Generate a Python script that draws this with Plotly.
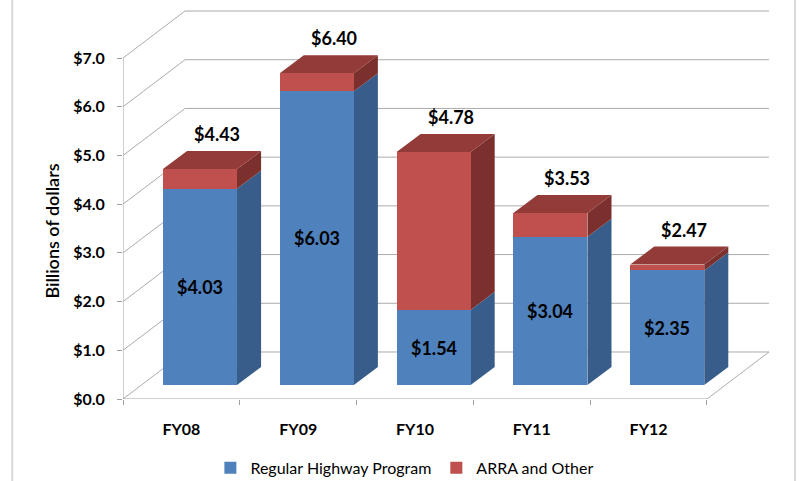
import plotly.graph_objects as go

# ---- data ----
categories = ["FY08", "FY09", "FY10", "FY11", "FY12"]
regular = [4.03, 6.03, 1.54, 3.04, 2.35]
arra = [0.40, 0.37, 3.24, 0.49, 0.12]
totals = [4.43, 6.40, 4.78, 3.53, 2.47]
y_ticks = [0, 1, 2, 3, 4, 5, 6, 7]
y_tick_labels = ["$0.0", "$1.0", "$2.0", "$3.0", "$4.0", "$5.0", "$6.0", "$7.0"]

# ---- pseudo-3D geometry (in axis units) ----
WALL_DX, WALL_DY = 0.531, 0.965      # full depth of the chart box
FRONT = 0.30                          # bars sit 30% into the depth
DXF, DYF = FRONT * WALL_DX, FRONT * WALL_DY
BAR_DX, BAR_DY = 0.206, 0.37          # bar depth
BAR_W = 0.634

BLUE, BLUE_SIDE = "#4F81BD", "#385D8A"
RED, RED_SIDE, RED_TOP = "#C0504D", "#7C302E", "#923B39"
GRID = "#ABABAB"
FONT = "Lato"

n = len(categories)
xc = [i + 0.5 + DXF for i in range(n)]

fig = go.Figure()
fig.add_trace(go.Bar(
    x=xc, y=regular, base=[DYF] * n, width=BAR_W, name="Regular Highway Program",
    marker=dict(color=BLUE, line=dict(width=0)),
    text=["$%.2f" % v for v in regular], textposition="inside",
    insidetextanchor="middle", textangle=0, constraintext="none",
    textfont=dict(family=FONT, size=18, color="black", weight="bold"),
    hoverinfo="skip"))
fig.add_trace(go.Bar(
    x=xc, y=arra, base=[DYF + r for r in regular], width=BAR_W, name="ARRA and Other",
    marker=dict(color=RED, line=dict(width=0)), hoverinfo="skip"))

shapes = []
def line(x0, y0, x1, y1, color=GRID):
    shapes.append(dict(type="line", x0=x0, y0=y0, x1=x1, y1=y1, xref="x", yref="y",
                       line=dict(color=color, width=1), layer="below"))

def poly(pts, color):
    path = "M " + " L ".join("%f,%f" % p for p in pts) + " Z"
    shapes.append(dict(type="path", path=path, xref="x", yref="y",
                       fillcolor=color, line=dict(width=0), layer="below"))

# walls / grid
for v in y_ticks:
    line(0, v, WALL_DX, v + WALL_DY)
    line(WALL_DX, v + WALL_DY, n + WALL_DX, v + WALL_DY)
line(n, 0, n + WALL_DX, WALL_DY)
line(0, 0, n, 0, "#A0A0A0")
line(0, 0, 0, 7, "#A0A0A0")

# bar sides and tops
for i in range(n):
    xl = xc[i] - BAR_W / 2
    xr = xc[i] + BAR_W / 2
    y0 = DYF
    y1 = DYF + regular[i]
    y2 = y1 + arra[i]
    poly([(xr, y0), (xr + BAR_DX, y0 + BAR_DY), (xr + BAR_DX, y1 + BAR_DY), (xr, y1)], BLUE_SIDE)
    poly([(xr, y1), (xr + BAR_DX, y1 + BAR_DY), (xr + BAR_DX, y2 + BAR_DY), (xr, y2)], RED_SIDE)
    poly([(xl, y2), (xr, y2), (xr + BAR_DX, y2 + BAR_DY), (xl + BAR_DX, y2 + BAR_DY)], RED_TOP)

# outer chart border (left / right)
for px in (-0.171, 1.037):
    shapes.append(dict(type="line", xref="paper", yref="paper", x0=px, x1=px,
                       y0=-0.23, y1=1.03, line=dict(color="#D9D9D9", width=2)))

annotations = []
for i in range(n):
    annotations.append(dict(
        x=xc[i] + 0.146, y=DYF + totals[i] + BAR_DY, xref="x", yref="y",
        text="$%.2f" % totals[i], showarrow=False, yanchor="bottom", yshift=4,
        font=dict(family=FONT, size=18, color="black", weight="bold")))
annotations.append(dict(
    x=-0.110, y=0.43, xref="paper", yref="paper", text="Billions of dollars",
    textangle=-90, showarrow=False, xanchor="center", yanchor="middle",
    font=dict(family=FONT, size=18, color="black", weight=600)))

fig.update_layout(
    template="none",
    width=799, height=481,
    margin=dict(l=123, r=28, t=8, b=82, autoexpand=False),
    paper_bgcolor="white", plot_bgcolor="white",
    barmode="overlay", bargap=0,
    shapes=shapes, annotations=annotations,
    showlegend=True,
    legend=dict(orientation="h", x=0.435, xanchor="center", y=-0.176, yanchor="middle",
                font=dict(family=FONT, size=16, color="black"), itemwidth=30,
                traceorder="normal", bgcolor="rgba(0,0,0,0)"),
    xaxis=dict(range=[0, n + 0.548], tickvals=[i + 0.5 for i in range(n)],
               ticktext=categories, ticks="", showgrid=False, showline=False,
               zeroline=False, ticklabelstandoff=19, automargin=False,
               tickfont=dict(family=FONT, size=16, color="black", weight="bold"),
               minor=dict(tickvals=list(range(n + 1)), ticks="outside", ticklen=5,
                          tickcolor="#A0A0A0", showgrid=False)),
    yaxis=dict(range=[0, 8.027], tickvals=y_ticks, ticktext=y_tick_labels,
               ticks="outside", ticklen=5, tickcolor="#A0A0A0", showgrid=False,
               showline=False, zeroline=False, ticklabelstandoff=9, automargin=False,
               tickfont=dict(family=FONT, size=16, color="black", weight="bold")),
)

fig.write_html("out.html", config={"displayModeBar": False},
               post_script="document.body.style.margin='0px';")
